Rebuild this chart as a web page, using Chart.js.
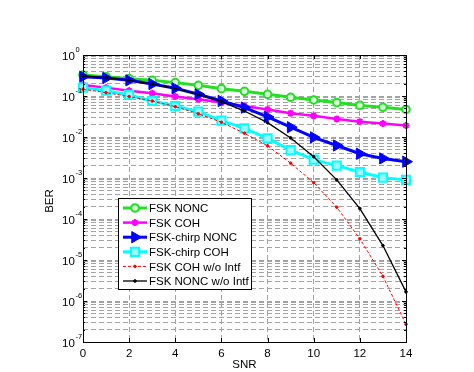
<!DOCTYPE html>
<html>
<head>
<meta charset="utf-8">
<script src="https://cdn.jsdelivr.net/npm/chart.js@4/dist/chart.umd.min.js"></script>
<style>
  html, body { margin: 0; padding: 0; background: #fff; }
  #wrap { width: 474px; height: 372px; }
</style>
</head>
<body>
<div id="wrap"><canvas id="berChart" width="474" height="372"></canvas></div>
<script>
// SNR axis (dB)
const snr = [0, 1, 2, 3, 4, 5, 6, 7, 8, 9, 10, 11, 12, 13, 14];

// BER values
const fskNonc      = [0.326, 0.296, 0.265, 0.241, 0.212, 0.182, 0.151, 0.130, 0.110, 0.093, 0.080, 0.069, 0.059, 0.053, 0.047];
const fskCoh       = [0.186, 0.160, 0.135, 0.116, 0.097, 0.083, 0.069, 0.057, 0.047, 0.038, 0.033, 0.0275, 0.0237, 0.0212, 0.019];
const chirpNonc    = [0.296, 0.275, 0.241, 0.196, 0.154, 0.110, 0.0757, 0.052, 0.0308, 0.0173, 0.0098, 0.0062, 0.0039, 0.0030, 0.0025];
const chirpCoh     = [0.160, 0.135, 0.106, 0.0757, 0.057, 0.0416, 0.025, 0.0163, 0.0093, 0.0048, 0.0028, 0.0020, 0.0014, 0.00102, 0.0009];
const fskCohNoIntf = [0.146, 0.121, 0.097, 0.0757, 0.055, 0.037, 0.0229, 0.0123, 0.0061, 0.0023, 0.00077, 0.000194, 0.000033, 0.000004, 0.00000027];
const fskNoncNoIntf= [0.308, 0.280, 0.241, 0.196, 0.151, 0.110, 0.073, 0.043, 0.0224, 0.0095, 0.0033, 0.0009, 0.00018, 0.0000225, 0.00000167];

const seriesLabels = ["FSK NONC", "FSK COH", "FSK-chirp NONC", "FSK-chirp COH", "FSK COH w/o Intf", "FSK NONC w/o Intf"];
const xTicks = [0, 2, 4, 6, 8, 10, 12, 14];
const yExponents = [0, -1, -2, -3, -4, -5, -6, -7];

const FONT = '"Liberation Sans", Arial, Helvetica, sans-serif';
const GRID = "#a3a3a3";

let styles = [
    { color: "#22e022", fill: "#d8fbd8", point: "circle", radius: 3.8, width: 3, pointWidth: 2 },
    { color: "#ff00ff", fill: "#ff00ff", point: "star", radius: 3.5, width: 2.5, pointWidth: 2 },
    { color: "#0000ff", fill: "#0000ff", point: "triangle", radius: 6.5, width: 3, pointWidth: 1, rotation: 90 },
    { color: "#00ffff", fill: "#9ffcfc", point: "rect", radius: 5.8, width: 3, pointWidth: 2 },
    { color: "#ff0000", fill: "#ff0000", point: "circle", radius: 1.3, width: 1, pointWidth: 1, dash: [3, 2] },
    { color: "#000000", fill: "#000000", point: "circle", radius: 1.3, width: 1.3, pointWidth: 1 }
];
let seriesData = [fskNonc, fskCoh, chirpNonc, chirpCoh, fskCohNoIntf, fskNoncNoIntf];

let datasets = seriesData.map((vals, i) => ({
    label: seriesLabels[i],
    data: vals.map((v, k) => ({ x: snr[k], y: v })),
    borderColor: styles[i].color,
    backgroundColor: styles[i].fill,
    borderWidth: styles[i].width,
    borderDash: styles[i].dash || [],
    pointStyle: styles[i].point,
    pointRadius: styles[i].radius,
    pointRotation: styles[i].rotation || 0,
    pointBorderWidth: styles[i].pointWidth,
    pointBorderColor: styles[i].color,
    pointBackgroundColor: styles[i].fill,
    tension: 0,
    clip: false,
    order: 6 - i
}));

function drawMarker(ctx, st, x, y) {
    ctx.save();
    ctx.translate(x, y);
    ctx.rotate((st.rotation || 0) * Math.PI / 180);
    ctx.strokeStyle = st.color;
    ctx.fillStyle = st.fill;
    ctx.lineWidth = st.pointWidth;
    ctx.setLineDash([]);
    let r = st.radius;
    ctx.beginPath();
    if (st.point === "circle") {
        ctx.arc(0, 0, r, 0, Math.PI * 2);
        ctx.fill(); ctx.stroke();
    } else if (st.point === "rect") {
        let s = r * Math.SQRT1_2;
        ctx.rect(-s, -s, 2 * s, 2 * s);
        ctx.fill(); ctx.stroke();
    } else if (st.point === "triangle") {
        for (let a = 0; a < 3; a++) {
            let ang = -Math.PI / 2 + a * 2 * Math.PI / 3;
            let px = Math.cos(ang) * r, py = Math.sin(ang) * r;
            a === 0 ? ctx.moveTo(px, py) : ctx.lineTo(px, py);
        }
        ctx.closePath();
        ctx.fill(); ctx.stroke();
    } else if (st.point === "star") {
        for (let a = 0; a < 4; a++) {
            let ang = a * Math.PI / 4;
            ctx.moveTo(Math.cos(ang) * r, Math.sin(ang) * r);
            ctx.lineTo(-Math.cos(ang) * r, -Math.sin(ang) * r);
        }
        ctx.stroke();
    }
    ctx.restore();
}

const framePlugin = {
    id: "frame",
    afterDraw(chart) {
        let ctx = chart.ctx;
        let area = chart.chartArea;
        let xs = chart.scales.x, ys = chart.scales.y;
        ctx.save();

        // box
        ctx.strokeStyle = "#000";
        ctx.lineWidth = 1;
        ctx.strokeRect(area.left + 0.5, area.top + 0.5, area.right - area.left, area.bottom - area.top);

        // inward ticks
        ctx.beginPath();
        xTicks.forEach(t => {
            let px = Math.round(xs.getPixelForValue(t)) + 0.5;
            ctx.moveTo(px, area.bottom); ctx.lineTo(px, area.bottom - 4);
            ctx.moveTo(px, area.top); ctx.lineTo(px, area.top + 4);
        });
        yExponents.forEach(e => {
            for (let m = 1; m <= 9; m++) {
                let v = m * Math.pow(10, e);
                if (v > 1 || v < 1e-7) continue;
                let py = Math.round(ys.getPixelForValue(v)) + 0.5;
                let len = m === 1 ? 4 : 2;
                ctx.moveTo(area.left, py); ctx.lineTo(area.left + len, py);
                ctx.moveTo(area.right, py); ctx.lineTo(area.right - len, py);
            }
        });
        ctx.stroke();

        // y tick labels 10^n
        ctx.fillStyle = "#000";
        ctx.textBaseline = "middle";
        ctx.textAlign = "left";
        yExponents.forEach(e => {
            let py = ys.getPixelForValue(Math.pow(10, e));
            ctx.font = "11.5px " + FONT;
            ctx.fillText("10", 62, py + 2);
            ctx.font = "7.5px " + FONT;
            ctx.fillText(String(e), 75.5, py - 5);
        });

        // axis titles
        ctx.font = "11.5px " + FONT;
        ctx.textAlign = "center";
        ctx.fillText("SNR", (area.left + area.right) / 2, 365);
        ctx.save();
        ctx.translate(50, 201);
        ctx.rotate(-Math.PI / 2);
        ctx.fillText("BER", 0, 0);
        ctx.restore();

        // legend
        let lx = 118, ly = 198, lw = 133, lh = 91;
        ctx.fillStyle = "#fff";
        ctx.fillRect(lx, ly, lw, lh);
        ctx.strokeStyle = "#000";
        ctx.lineWidth = 1;
        ctx.strokeRect(lx + 0.5, ly + 0.5, lw, lh);
        ctx.font = "11.5px " + FONT;
        ctx.textAlign = "left";
        ctx.textBaseline = "middle";
        seriesLabels.forEach((lab, i) => {
            let st = styles[i];
            let ry = 208 + i * 14.6;
            ctx.strokeStyle = st.color;
            ctx.lineWidth = st.width;
            ctx.setLineDash(st.dash || []);
            ctx.beginPath();
            ctx.moveTo(123, ry); ctx.lineTo(147, ry);
            ctx.stroke();
            ctx.setLineDash([]);
            drawMarker(ctx, st, 135, ry);
            ctx.fillStyle = "#000";
            ctx.fillText(lab, 149, ry + 1);
        });
        ctx.restore();
    }
};

new Chart(document.getElementById("berChart"), {
    type: "line",
    data: { datasets: datasets },
    options: {
        responsive: false,
        animation: false,
        devicePixelRatio: 1,
        layout: { padding: { left: 83, right: 68, top: 55, bottom: 0 } },
        plugins: { legend: { display: false }, tooltip: { enabled: false } },
        scales: {
            x: {
                type: "linear",
                min: 0,
                max: 14,
                afterBuildTicks: (s) => { s.ticks = xTicks.map(v => ({ value: v })); },
                afterFit: (s) => { s.height = 30; },
                border: { display: false, dash: [5, 3] },
                grid: { color: GRID, lineWidth: 1, drawTicks: false },
                ticks: {
                    color: "#000",
                    padding: 5,
                    maxRotation: 0,
                    font: { size: 11.5, family: FONT }
                }
            },
            y: {
                type: "logarithmic",
                min: 1e-7,
                max: 1,
                afterBuildTicks: (s) => {
                    let t = [];
                    yExponents.forEach(e => {
                        for (let m = 1; m <= 9; m++) {
                            let v = m * Math.pow(10, e);
                            if (v <= 1 && v >= 1e-7) t.push({ value: v });
                        }
                    });
                    s.ticks = t;
                },
                afterFit: (s) => { s.width = 0; },
                border: { display: false, dash: [5, 3] },
                grid: { color: GRID, lineWidth: 1, drawTicks: false },
                ticks: { display: false }
            }
        }
    },
    plugins: [framePlugin]
});
</script>
</body>
</html>
